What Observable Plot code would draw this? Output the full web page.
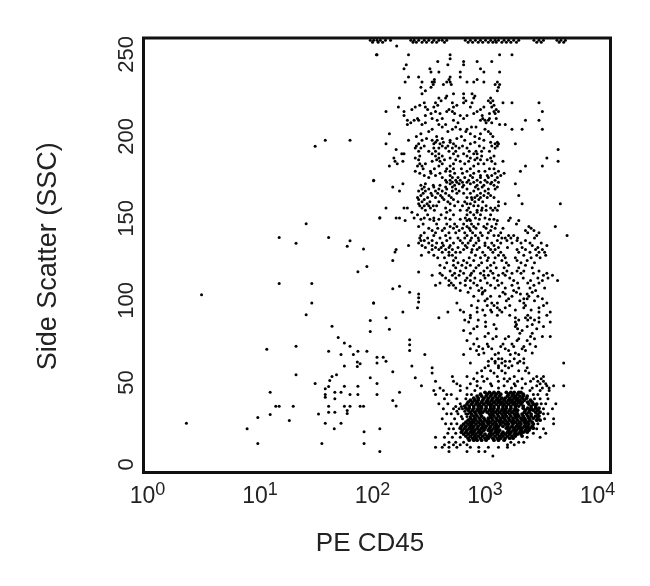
<!DOCTYPE html>
<html>
<head>
<meta charset="utf-8">
<style>
html,body{margin:0;padding:0;background:#fff}
svg{display:block;filter:blur(0.5px)}
</style>
<script src="https://cdn.jsdelivr.net/npm/d3@7"></script>
<script src="https://cdn.jsdelivr.net/npm/@observablehq/plot@0.6"></script>
</head>
<body>
<div id="chart"></div>
<script>
// Every row: [side scatter, then the log10(PE CD45) of each event at that side scatter]
const xTicks = [1, 10, 100, 1000, 10000];
const yTicks = [0, 50, 100, 150, 200, 250];

const sparseEvents = [
[249.8,2.04],[197.6,1.58,1.80],[194,1.49],[173,2.01],[150.4,2.065],[146.8,1.41],[138.4,1.17,1.61],
[136.4,1.80],[134.8,1.32],[133,1.775],[131.3,1.92],[120.7,1.95],[117.5,1.87],[110.4,1.17,1.46],
[103.5,0.48],[98.4,1.46,2.01],[91.3,1.41],[87.8,1.98],[84.3,1.64],[81.1,1.98],[77.4,1.695],[74,1.75],
[72,1.32,1.80],[70.3,1.06],[69,1.61,1.87,1.95],[67,1.72,1.83],[65.4,2.04],[62.4,1.865],[61.8,2.04],
[61.4,1.89],[60,1.75],[59.8,1.865],[54.7,1.32,1.68],[53.7,1.64],[52.9,1.98],[51.2,1.62],[49.4,1.49,2.04],
[47.7,1.75,1.87],[47.6,1.61],[46.2,1.58],[44,1.09,1.665,1.72],[42.7,1.58,1.80,1.87,2.04],[41,1.58],
[40,1.665],[35.5,1.14,1.17,1.295,1.61,1.75,1.80,1.89,1.92],[32.9,1.775],[31.9,1.61,1.665],[31,1.775],
[30.7,1.52],[30.5,1.09],[28.7,0.98],[26.8,1.26],[25.2,0.345,1.58,1.72],[21.8,0.885,1.66,2.065],
[19.9,1.925],[12.8,0.98,1.55,1.925],[7.9,2.065],
[129.5,2.20],[127.5,2.435],[124.4,2.18],[117.3,2.41],[108.7,2.24],[107.1,2.18],[105,2.33],[104,2.41],
[101.6,2.41],[99,2.41],[98.4,2.01],[95.5,2.40],[92.9,2.27],[89.4,2.12],[82.5,2.15],[76,2.33],[73,2.33],
[69.5,2.33],[67.1,2.465],[65.4,2.095],[63,2.12],[60,2.35],[56.5,2.18],[52.8,2.38],[48,2.435],[44.1,2.24],
[39,2.18],[35.6,2.21]
];

const upperEvents = [
[258.6,1.98,2.01,2.04,2.07,2.115,2.16,2.34,2.37,2.41,2.46,2.50,2.545,2.59,2.62,2.66,2.825,2.87,2.915,2.96,3.005,3.05,3.09,3.12,3.17,3.21,3.255,3.30,3.435,3.48,3.52,3.64,3.675,3.715],
[257.4,2.00,2.05,2.09,2.36,2.39,2.44,2.48,2.53,2.57,2.64,2.85,2.89,2.94,2.98,3.03,3.07,3.10,3.15,3.19,3.23,3.28,3.46,3.50,3.66,3.70],
[255.1,2.215],
[249.8,2.035,2.32,2.69,3.13,3.24],
[247.4,2.69],
[245.7,2.58,2.81,2.93,3.06],
[243.7,2.30,2.67,2.81],
[241.3,2.28,2.51,2.96],
[239.2,2.52,2.59,2.78,2.99,3.13],
[236.2,2.32,2.41,2.69,2.78],
[233.1,2.29,2.44,2.53,2.55,2.66,2.69,2.84,2.90,2.99,3.11],
[230,2.43,2.52,3.12],
[226,2.44,2.72,2.81,2.885],
[223.4,2.24,2.59,2.65,2.81,2.90,3.05],
[220.5,2.46,2.56,2.71,2.81,2.885,3.05,3.16,3.24,3.48],
[217.9,2.23,2.38,2.47,2.545,2.72,2.87,2.99,3.06],
[215.2,2.12,2.28,2.56,2.66,2.71,2.93,3.08,3.12,3.51],
[212.8,2.28,2.47,2.78,2.84,2.975],
[209.8,2.31,2.37,2.41,2.575,2.72,2.96,3.0,3.03,3.36,3.48],
[207.3,2.31,2.44,2.59,2.65,3.13,3.18],
[204.3,2.53,2.71,2.78,2.84,3.0,3.24,3.33,3.51],
[201.6,2.15,2.43,2.87,2.96,3.05],
[197.6,2.32,2.44,2.53,2.575,2.69,2.82,2.99],
[195.5,2.12,2.41,2.545,2.60,2.72,2.87,3.09,3.12,3.27],
[192.9,2.38,2.43,2.545,2.59,2.65,2.71,2.77,2.84,2.99,3.09],
[192,2.21,3.65],
[189.4,2.26,2.28,2.53,2.59,2.72,2.81,2.90,2.93],
[186.8,2.19,2.38,2.59,2.69,2.87,2.93,3.05,3.55],
[184.8,2.20,2.27,2.53,2.60,2.78,2.855,3.06,3.16,3.65],
[181.9,2.15,2.40,2.44,2.59,2.69,2.90,3.36,3.51],
[178.7,2.38,2.515,2.65,2.69,2.84,2.945,3.0,3.12,3.315],
[176.2,2.46,2.56,2.69,2.87,2.96,3.02,3.06,3.14],
[173.2,2.01,2.65,2.69,2.74,2.78,2.855,2.93,3.0,3.09],
[171.1,2.27,2.47,2.69,2.77,2.87,3.05,3.27],
[169.1,2.18,2.46,2.545,2.65,2.71,2.80,2.915,2.975,3.11],
[166.7,2.24,2.41,2.47,2.56,2.62,2.71,2.77,2.90,3.0],
[164,2.43,2.53,2.605,2.68,2.93,2.99,3.05,3.30],
[161.6,2.41,2.46,2.635,2.72,2.885,2.945],
[158.9,2.41,2.485,2.69,2.84,2.87,3.18,3.33,3.67],
[156.3,2.12,2.28,2.31,2.44,2.515,2.65,2.855,2.975,3.05,3.09],
[153.8,2.35,2.66,2.87,2.93],
[150.2,2.065,2.21,2.24,2.37,2.46,2.545,2.65,2.825,2.915,3.0,3.225],
[148.8,2.29,2.545,2.84,2.87,3.11,3.21,3.30],
[145.1,2.41,2.69,2.75,2.84,2.90,2.99,3.06,3.39,3.625],
[142.7,2.53,2.62,2.77,2.87,3.05,3.36,3.435],
[139.6,2.43,2.545,2.65,2.84,2.915,2.975,3.08,3.12,3.21,3.255,3.46,3.73],
[136.6,2.43,2.46,2.53,2.66,2.78,2.87,2.945,3.11,3.195,3.285,3.36],
[133.5,2.32,2.44,2.53,2.63,2.69,2.825,2.90,3.0,3.08,3.42,3.55],
[131.1,2.21,2.53,2.59,2.65,2.71,2.81,2.885,2.93,3.05,3.09,3.285,3.36,3.45,3.51],
[127.5,2.545,2.68,2.71,2.915,3.0,3.12,3.165,3.345,3.46,3.54],
[124.4,2.72,2.81,2.90,3.02,3.15,3.285,3.375],
[121.4,2.60,2.72,2.795,2.87,2.945,3.05,3.21,3.36],
[117.9,2.69,2.78,2.90,2.99,3.05,3.195,3.285,3.345,3.48],
[115.3,2.53,2.62,2.71,2.77,2.87,2.99,3.03,3.12,3.18,3.52,3.60],
[112.2,2.68,2.825,2.87,2.96,3.11,3.255,3.405,3.51,3.645],
[109.2,2.56,2.68,2.72,2.825,2.93,3.05,3.12,3.24,3.435],
[106.1,2.78,2.945,3.0,3.255,3.45],
[104,2.975,3.18,3.315,3.375],
[101,3.02,3.21,3.345,3.375,3.51],
[98.4,2.75,3.06,3.11,3.345,3.55],
[95.5,2.93,3.11,3.18,3.345,3.48],
[92.9,2.67,2.81,2.93,3.06,3.15,3.48,3.58],
[89.4,2.59,2.87,3.27,3.36,3.405,3.48],
[86.8,2.855,3.005,3.27,3.48,3.58],
[84.1,2.93,3.005,3.27,3.375,3.52],
[81.7,2.81,3.33],
[78,3.0,3.10,3.21,3.405,3.51,3.58],
[75.6,2.84,3.285,3.375],
[71.9,2.945,3.03,3.14,3.255,3.345,3.45],
[69.5,2.925,3.21,3.36],
[67.1,2.81,2.945,3.09,3.225,3.30]
];

// Second reading of the same population: the events that touch one another in the crowded bands
const crowdedEvents = [
[234.7,2.55,2.68,2.93],[231.6,2.54,2.63,2.70,3.09,3.13],[227.8,2.47,3.11],[224.7,2.66,2.91],
[221.8,2.61,2.83,3.03,3.07],[219,2.42,2.58,2.75,3.08],[216.4,2.35,2.49,2.68,2.96,3.10],
[213.9,2.52,2.60,2.73,2.90,3.04,3.09],[210.9,2.40,2.53,2.62,2.81,2.98,3.04,3.10],[208.4,2.34,2.47,2.76,3.01,3.06],
[205.7,2.62,2.74,2.88,2.92],[203,2.50,2.67,2.83,3.03],[200,2.39,2.57,2.79,2.91,3.07],[198.8,2.48,2.62,2.75,2.95],
[196.4,2.56,2.63,2.69,2.91,3.05,3.11],[194.1,2.39,2.46,2.62,2.67,2.74,2.80,2.95,3.06,3.11],
[191,2.41,2.50,2.56,2.68,2.74,2.86,2.92,2.97,3.04],[188,2.42,2.56,2.62,2.76,2.84,2.97,3.08],
[185.8,2.41,2.57,2.64,2.74,2.91,2.96,3.02],[183.3,2.22,2.42,2.47,2.62,2.72,2.82,2.94,2.99,3.09],
[180.3,2.45,2.55,2.66,2.72,2.79,2.87,3.04,3.08],[177.5,2.42,2.52,2.60,2.73,2.80,2.90,3.09,3.17],
[174.9,2.50,2.62,2.71,2.76,2.82,2.89,2.96,3.03,3.11],[172.1,2.66,2.71,2.75,2.80,2.84,2.90,2.96,3.02,3.06,3.12],
[170.2,2.43,2.54,2.60,2.73,2.81,2.93,2.99,3.08],[167.9,2.44,2.50,2.59,2.66,2.74,2.84,2.94,3.03,3.09],
[165.3,2.45,2.52,2.58,2.65,2.75,2.81,2.87,2.96,3.03],[162.8,2.40,2.49,2.56,2.62,2.70,2.84,2.88,2.91,2.96,3.02,3.08],
[160.2,2.44,2.51,2.59,2.67,2.76,2.82,2.91,2.98,3.12],[157.7,2.42,2.46,2.50,2.54,2.57,2.73,2.80,2.90,2.94,3.01,3.12],
[155,2.47,2.55,2.69,2.78,2.84,2.93,2.97,3.01,3.07,3.11],[152.3,2.40,2.49,2.61,2.72,2.84,2.90,2.96,3.05],
[149.5,2.43,2.51,2.59,2.69,2.78,2.86,2.95,3.04,3.08],[146.6,2.45,2.57,2.66,2.73,2.81,2.88,2.94,3.02,3.10,3.28],
[144,2.50,2.58,2.64,2.72,2.80,2.86,2.92,3.01,3.09,3.16,3.41],[141.2,2.46,2.56,2.68,2.74,2.82,2.89,2.96,3.03,3.14,3.38,3.48],
[138,2.42,2.49,2.60,2.69,2.76,2.82,2.88,2.94,3.02,3.15,3.18,3.23,3.29,3.44],
[135,2.41,2.50,2.57,2.62,2.72,2.80,2.85,2.92,3.0,3.06,3.14,3.24,3.32,3.40,3.50],
[132.3,2.47,2.56,2.61,2.68,2.76,2.84,2.95,3.03,3.12,3.20,3.33,3.47],
[129.4,2.50,2.62,2.68,2.74,2.78,2.88,2.98,3.07,3.14,3.30,3.40,3.48,3.53],
[126,2.58,2.64,2.74,2.86,2.96,3.03,3.09,3.18,3.27,3.41,3.49],
[123,2.66,2.76,2.84,2.97,3.08,3.19,3.32,3.44],[120,2.64,2.74,2.83,2.92,3.02,3.10,3.17,3.30,3.42],
[116.6,2.60,2.73,2.81,2.88,2.96,3.07,3.16,3.24,3.32,3.43,3.55],[113.7,2.65,2.74,2.84,2.91,3.0,3.08,3.22,3.34,3.47,3.56],
[110.7,2.60,2.70,2.78,2.90,3.02,3.15,3.29,3.38,3.48],[107.6,2.74,2.87,2.97,3.09,3.18,3.30,3.40,3.53],
[105,2.85,2.98,3.16,3.28,3.42],[102.5,2.90,3.05,3.13,3.24,3.39,3.47],[99.8,2.94,3.0,3.19,3.31,3.44],
[96.9,2.88,3.02,3.08,3.22,3.36,3.52],[94.2,2.78,2.98,3.05,3.13,3.27,3.41],[91,2.87,3.0,3.11,3.22,3.38,3.55],
[88,2.82,2.94,3.30,3.38,3.44],[85.4,3.08,3.28,3.42],[82.8,2.90,3.10,3.29,3.46],[80,2.87,3.03,3.31,3.42],
[76.7,2.93,3.07,3.18,3.30,3.44],[73.5,2.90,3.02,3.16,3.24,3.40],[70.5,2.87,2.98,3.06,3.18,3.33],[68,2.99,3.12,3.27,3.42]
];

const fringeEvents = [
[64.4,3.06,3.12,3.15,3.26,3.345],
[63,3.03,3.09,3.18,3.22,3.31],
[61.8,2.87,3.09,3.15,3.29,3.345,3.70],
[60.2,3.03,3.18,3.24,3.12],
[58.9,2.53,3.0,3.12,3.21,3.375],
[57.2,2.97,3.05,3.15,3.30,3.36],
[55.7,2.53,2.93,3.08,3.18,3.39],
[53.7,2.71,2.84,2.975,3.11,3.26,3.46,3.52],
[52.2,2.90,3.02,3.17,3.22,3.33,3.43,3.50],
[50.8,2.56,2.72,2.93,2.99,3.12,3.20,3.29,3.405,3.52,3.47],
[49.2,2.75,2.87,3.05,3.26,3.36,3.49,3.54],
[48,2.78,2.93,3.06,3.17,3.27,3.46,3.55,3.61,3.70],
[46.6,2.60,2.84,2.96,3.12,3.235,3.33,3.42,3.51,3.57],
[45.1,2.545,2.63,2.78,2.91,3.40,3.49,3.57],
[42.7,2.56,2.66,2.70,2.84,2.88,3.43,3.47,3.55],
[40,2.64,2.75,2.83,3.44,3.49,3.56],
[37,2.59,2.67,2.78,3.50,3.54,3.63],
[35.4,2.74,2.79],
[33.9,2.63,2.72,2.77,2.80,3.52,3.60],
[32.4,2.75,2.82],
[30.9,2.66,2.70,2.76,2.83,2.85,3.52,3.56],
[29.2,2.79,2.84,2.87],
[27.8,2.62,2.73,2.80,3.53,3.61],
[24.8,2.65,2.70,2.75,3.47,3.61],
[21.7,2.68,2.72,3.46,3.52],
[19.1,2.67,2.74,3.43,3.54],
[16.6,2.56,2.64,2.71,2.78,3.375,3.49],
[13.6,2.68,2.74,2.81,3.23,3.30,3.345],
[12,2.64,2.72,2.78,2.84,3.20,3.26],
[10.5,2.56,2.62,2.68,2.75,2.87,2.945,3.03,3.12,3.20],
[7.9,2.68,2.84,2.945,3.0],
[5.1,3.07]
];

const coreEvents = [
[44,3.0,3.04,3.08,3.12,3.19,3.23,3.26,3.30,3.32],
[42.8,2.96,3.02,3.06,3.10,3.14,3.21,3.25,3.29,3.34],
[41.7,2.93,2.97,3.01,3.05,3.09,3.13,3.20,3.24,3.27,3.31,3.34,3.375],
[40.4,2.90,2.94,2.99,3.03,3.07,3.11,3.15,3.18,3.22,3.26,3.29,3.33,3.37],
[39.2,2.87,2.91,2.94,2.98,3.02,3.06,3.10,3.13,3.17,3.21,3.24,3.28,3.31,3.35,3.405],
[38,2.85,2.89,2.93,2.97,3.01,3.04,3.08,3.12,3.15,3.19,3.23,3.26,3.30,3.33,3.38,3.42],
[36.8,2.84,2.88,2.92,2.95,2.99,3.03,3.06,3.10,3.14,3.17,3.21,3.25,3.28,3.32,3.39,3.43,3.46],
[35.6,2.82,2.86,2.90,2.94,2.97,3.01,3.05,3.08,3.12,3.16,3.19,3.23,3.27,3.30,3.34,3.41,3.45],
[34.3,2.83,2.86,2.90,2.94,2.97,3.01,3.05,3.08,3.12,3.16,3.19,3.23,3.27,3.34,3.38,3.41,3.45,3.48],
[33.1,2.85,2.89,2.93,2.96,3.0,3.04,3.07,3.11,3.15,3.18,3.22,3.26,3.29,3.36,3.40,3.43,3.47],
[31.9,2.87,2.91,2.95,2.98,3.02,3.06,3.09,3.13,3.17,3.20,3.24,3.28,3.35,3.39,3.45,3.49],
[30.7,2.88,2.92,2.96,3.04,3.07,3.11,3.15,3.18,3.22,3.26,3.29,3.33,3.37,3.41,3.47],
[29.5,2.90,2.93,2.97,3.05,3.08,3.12,3.16,3.19,3.23,3.27,3.30,3.34,3.38,3.41,3.45,3.48],
[28.2,2.87,2.91,2.95,2.99,3.03,3.06,3.10,3.14,3.17,3.21,3.25,3.28,3.32,3.35,3.39,3.43,3.47],
[27,2.85,2.89,2.92,2.96,3.0,3.03,3.07,3.11,3.14,3.18,3.22,3.25,3.29,3.33,3.36,3.40,3.46,3.49],
[25.8,2.83,2.87,2.90,2.94,2.98,3.02,3.05,3.09,3.13,3.16,3.20,3.24,3.27,3.31,3.35,3.38,3.42],
[24.6,2.81,2.85,2.88,2.92,2.96,2.99,3.03,3.07,3.10,3.14,3.18,3.21,3.25,3.29,3.32,3.36,3.39,3.43],
[23.3,2.79,2.83,2.87,2.90,2.94,2.98,3.01,3.05,3.09,3.12,3.16,3.20,3.24,3.28,3.31,3.35,3.38,3.42],
[22.1,2.78,2.82,2.86,2.89,2.93,2.97,3.0,3.04,3.08,3.11,3.19,3.22,3.26,3.30,3.33,3.37,3.40,3.43],
[20.9,2.80,2.84,2.88,2.91,2.95,2.99,3.03,3.06,3.10,3.13,3.21,3.25,3.28,3.32,3.36,3.39],
[19.7,2.79,2.83,2.87,2.90,2.94,2.97,3.05,3.09,3.12,3.16,3.20,3.23,3.27,3.31,3.34,3.375],
[18.5,2.81,2.85,2.89,2.92,2.96,3.0,3.04,3.07,3.11,3.15,3.18,3.22,3.26,3.29,3.32],
[17.3,2.83,2.87,2.91,2.94,2.98,3.02,3.05,3.09,3.13,3.16,3.20,3.24,3.27,3.33],
[16,2.85,2.89,2.92,2.96,3.0,3.03,3.07,3.11,3.14,3.18,3.22,3.25],
[14.8,2.86,2.90,2.93,2.97,3.01,3.08,3.12,3.17]
];

function toEvents(rows) {
  return rows.flatMap(([ssc, ...logs]) => logs.map(l => ({pe: Math.pow(10, l), ssc})));
}

const scatterMarks = [sparseEvents, upperEvents, crowdedEvents, fringeEvents].map(rows =>
  Plot.dot(toEvents(rows), {x: "pe", y: "ssc", r: 1.5, fill: "#000", stroke: "none"}));

const chart = Plot.plot({
  width: 650,
  height: 586,
  marginLeft: 143,
  marginRight: 40,
  marginTop: 37.5,
  marginBottom: 114,
  style: {fontFamily: "'Liberation Sans', Arial, sans-serif", background: "#fff", color: "#222"},
  x: {type: "log", domain: [0.92, 13060]},
  y: {type: "linear", domain: [-4.9, 260]},
  marks: [
    ...scatterMarks,
    Plot.dot(toEvents(coreEvents), {x: "pe", y: "ssc", r: 1.9, fill: "#000", stroke: "none"}),
    Plot.frame({stroke: "#111", strokeWidth: 3}),
    Plot.axisX({ticks: xTicks, tickSize: 0, tickPadding: 14, fontSize: 23,
      tickFormat: d => "10" + Math.round(Math.log10(d)), label: null, fill: "#222"}),
    Plot.axisY({ticks: yTicks, tickSize: 0, tickPadding: 11, fontSize: 22, tickRotate: -90,
      label: null, fill: "#222"}),
    Plot.text(["PE CD45"], {frameAnchor: "bottom", dx: -7, dy: 78, fontSize: 26, fill: "#222"}),
    Plot.text(["Side Scatter (SSC)"], {frameAnchor: "left", textAnchor: "middle", rotate: -90, dx: -96, dy: 1, fontSize: 27, fill: "#222"})
  ]
});

// Raise the exponent of each decade label, keeping it as real text
d3.select(chart).selectAll('g[aria-label="x-axis tick label"] text').each(function() {
  const t = this.textContent;
  const el = d3.select(this);
  el.text("10");
  el.append("tspan").attr("dy", "-0.42em").attr("font-size", 18).text(t.slice(2));
});

document.getElementById("chart").appendChild(chart);
</script>
</body>
</html>
